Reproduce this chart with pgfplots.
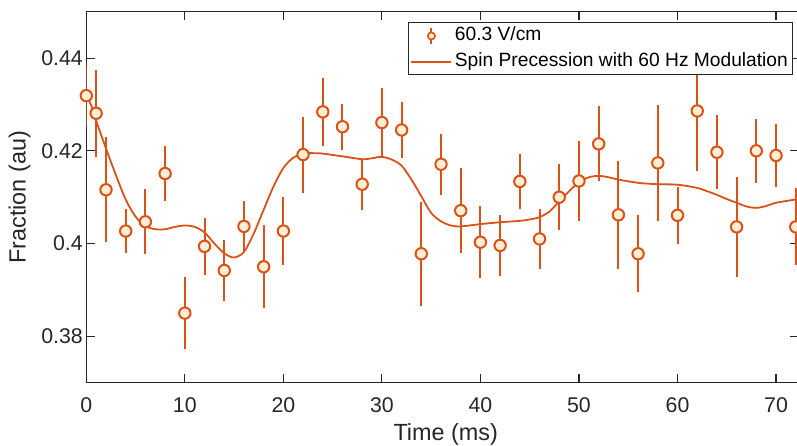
\documentclass[border=0pt]{standalone}
\usepackage{pgfplots}
\pgfplotsset{compat=1.18}
\usepackage{fontspec}
\setmainfont{Liberation Sans}
\definecolor{ora}{RGB}{217,83,25}
\definecolor{cream}{RGB}{253,238,214}
\definecolor{axc}{RGB}{38,38,38}

\pgfplotstableread{
x y e
0 0.4319 0.0067
1 0.4281 0.0094
2 0.4116 0.0113
4 0.4027 0.0047
6 0.4047 0.0070
8 0.4151 0.0060
10 0.3850 0.0078
12 0.3994 0.0062
14 0.3942 0.0066
16 0.4037 0.0055
18 0.3950 0.0089
20 0.4027 0.0074
22 0.4192 0.0082
24 0.4284 0.0073
26 0.4252 0.0050
28 0.4128 0.0055
30 0.4261 0.0074
32 0.4245 0.0060
34 0.3978 0.0112
36 0.4171 0.0066
38 0.4071 0.0092
40 0.4003 0.0078
42 0.3996 0.0066
44 0.4134 0.0059
46 0.4010 0.0064
48 0.4100 0.0071
50 0.4135 0.0087
52 0.4215 0.0081
54 0.4062 0.0117
56 0.3978 0.0083
58 0.4174 0.0125
60 0.4061 0.0062
62 0.4286 0.0130
64 0.4197 0.0080
66 0.4036 0.0107
68 0.4200 0.0069
70 0.4190 0.0067
72 0.4036 0.0083
}\datatable

\pgfplotstableread{
x y
0 0.4318
0.5 0.4298
1 0.4265
2 0.4205
3 0.4148
4 0.4095
5 0.4058
6 0.4038
7 0.4031
8 0.4031
9 0.4036
10 0.4039
11 0.4036
12 0.4024
13 0.4000
14 0.3979
15 0.3970
16 0.3982
17 0.4022
18 0.4073
19 0.4123
20 0.4163
21 0.4185
22 0.4194
23 0.4195
24 0.4194
26 0.4188
28 0.4182
29 0.4184
30 0.4187
31 0.4181
32 0.4168
33 0.4138
34 0.4102
35 0.4066
36 0.4048
37 0.4039
38 0.4037
40 0.4042
42 0.4046
44 0.4049
45 0.4052
46 0.4057
47 0.4069
48 0.4091
49 0.4113
50 0.4132
51 0.4143
52 0.4146
53 0.4143
54 0.4138
56 0.4131
58 0.4128
60 0.4127
62 0.4120
63 0.4113
64 0.4105
65 0.4096
66 0.4088
67 0.4080
68 0.4077
69 0.4081
70 0.4088
72 0.4095
}\fittable

\begin{document}
\begin{tikzpicture}
\begin{axis}[
  name=ax,
  scale only axis,
  width=712.4pt, height=371pt,
  xmin=0, xmax=72.3, ymin=0.37, ymax=0.45,
  xtick={0,10,20,30,40,50,60,70},
  xticklabels={0,10,20,30,40,50,60,70},
  ytick={0.38,0.40,0.42,0.44},
  yticklabels={0.38,0.4,0.42,0.44},
  tick align=inside,
  major tick length=8.5pt,
  axis line style={axc, line width=1.2pt},
  every tick/.style={axc, line width=1.1pt},
  tick label style={font=\fontsize{21.3}{25}\selectfont, text=axc},
  xticklabel style={anchor=base, yshift=-30.1pt},
  xlabel={Time (ms)},
  ylabel={Fraction (au)},
  every axis x label/.style={at={(axis description cs:0.5045,0)}, anchor=base, yshift=-57.6pt, font=\fontsize{23.4}{28}\selectfont, text=axc},
  every axis y label/.style={at={(axis description cs:0,0.5)}, xshift=-66.8pt, rotate=90, anchor=center, font=\fontsize{23.4}{28}\selectfont, text=axc},
  legend style={at={(0.992,0.972)}, anchor=north east, draw=axc, line width=1pt, fill=white,
    inner xsep=2pt, inner ysep=0.5pt, row sep=0pt,
    font=\fontsize{19.2}{22}\selectfont,
    nodes={inner sep=2.6pt, text height=15pt, text depth=5.5pt, text=black}},
  legend cell align=left,
]
\addplot[ora, line width=2pt, only marks, mark=*, mark size=5.7pt,
  mark options={fill=cream, draw=ora, line width=2pt},
  legend image code/.code={
    \path[draw=none, fill=none] (0pt,0pt) rectangle (40pt,0.1pt);
    \draw[ora, line width=2pt] (20pt,-8pt) -- (20pt,8pt);
    \draw[ora, line width=1.6pt, fill=cream] (20pt,0pt) circle (3.6pt);
  },
  error bars/.cd, y dir=both, y explicit, error mark=none,
  error bar style={line width=2pt, ora}]
  table[x=x, y=y, y error=e] {\datatable};
\addplot[ora, line width=1.8pt, smooth, no marks,
  legend image code/.code={\draw[ora, line width=1.8pt] (0pt,0pt) -- (40pt,0pt);}]
  table[x=x, y=y] {\fittable};
\legend{60.3 V/cm, Spin Precession with 60 Hz Modulation}
\end{axis}
\pgfresetboundingbox
\path ([shift={(-86.3pt,-62.3pt)}]ax.south west) rectangle ([shift={(710.7pt,382.7pt)}]ax.south west);
\end{tikzpicture}
\end{document}
